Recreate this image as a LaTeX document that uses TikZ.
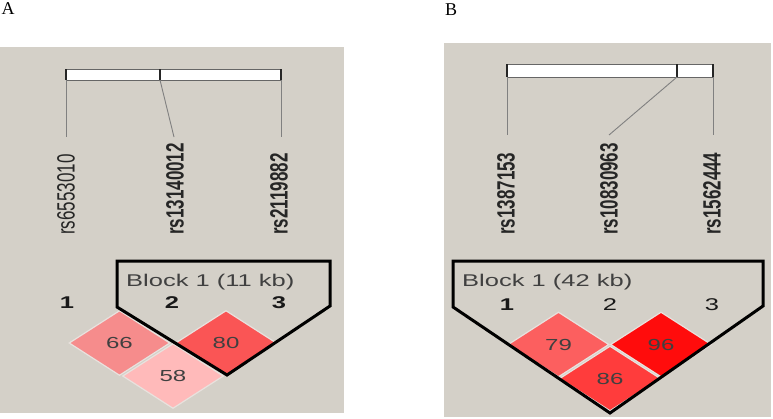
\documentclass[tikz,border=0pt]{standalone}
\usepackage{fontspec}
\setmainfont{Liberation Serif}
\newfontfamily\hvwide[FakeStretch=1.5]{Liberation Sans}
\newfontfamily\hvtall[FakeStretch=0.68]{Liberation Sans}
\usetikzlibrary{shapes.geometric}
\definecolor{hvgrey}{RGB}{212,208,200}
\definecolor{hvgap}{RGB}{232,226,222}
\definecolor{ldsixsix}{RGB}{246,140,140}
\definecolor{ldeightzero}{RGB}{250,85,85}
\definecolor{ldfiveeight}{RGB}{255,186,186}
\definecolor{ldsevennine}{RGB}{252,95,95}
\definecolor{ldninesix}{RGB}{255,12,12}
\definecolor{ldeightsix}{RGB}{255,60,60}
\tikzset{panel/.style={fill=hvgrey, draw=none}, panelname/.style={inner sep=0, font=\fontsize{18}{18}\selectfont}, snpbar/.style={draw=black!60, fill=white, line width=1pt}, snptick/.style={draw=black!85, line width=2pt}, snpline/.style={draw=black!50, line width=0.9pt}, snpname/.style={rotate=90, anchor=west, inner sep=0, text=black!85, font=\hvtall\fontsize{25}{25}\selectfont}, snpnum/.style={inner sep=0, text=black!90, font=\hvwide\bfseries\fontsize{17}{17}\selectfont}, snpnumlight/.style={snpnum, font=\hvwide\fontsize{17}{17}\selectfont}, blockname/.style={anchor=base west, inner sep=0, text=black!75, font=\hvwide\fontsize{17}{17}\selectfont}, ldcell/.style={diamond, minimum width=101pt, minimum height=65pt, inner sep=0, draw=hvgap, line width=1.2pt, text=black!75, font=\hvwide\fontsize{16}{16}\selectfont}, blockline/.style={draw=black, line width=3pt, line join=miter}}

\begin{document}
\begin{tikzpicture}[x=1pt, y=-1pt]
    \useasboundingbox[fill=white] (0,0) rectangle (773,418);
    \fill[panel] (0,47) rectangle (344,413);
    \fill[panel] (444,43) rectangle (771,417);
    \node[panelname] (lblA) at (8,9) {A};
    \node[panelname] (lblB) at (451,10) {B};

    \draw[snpbar] (66,69) rectangle (281,80);
    \coordinate (a-t1) at (66,69);
    \coordinate (a-t2) at (160,69);
    \coordinate (a-t3) at (281,69);
    \coordinate (a-b1) at (66,80);
    \coordinate (a-b2) at (160,80);
    \coordinate (a-b3) at (281,80);
    \coordinate (a-e1) at (66,137);
    \coordinate (a-e2) at (174,137);
    \coordinate (a-e3) at (281,137);
    \draw[snptick] (a-t1) -- (a-b1);
    \draw[snptick] (a-t2) -- (a-b2);
    \draw[snptick] (a-t3) -- (a-b3);
    \draw[snpline] (a-b1) -- (a-e1);
    \draw[snpline] (a-b2) -- (a-e2);
    \draw[snpline] (a-b3) -- (a-e3);
    \node[snpname] (a-rs1) at (66,235) {rs6553010};
    \node[snpname] (a-rs2) at (175,235) {\bfseries rs13140012};
    \node[snpname] (a-rs3) at (279,235) {\bfseries rs2119882};
    \node[snpnum] (a-n1) at (67,303) {1};
    \node[snpnum] (a-n2) at (172,303) {2};
    \node[snpnum] (a-n3) at (279,303) {3};
    \node[blockname] (a-block) at (126,286) {Block 1 (11 kb)};
    \node[ldcell, fill=ldsixsix] (a-ld12) at (119.5,343) {66};
    \node[ldcell, fill=ldeightzero] (a-ld23) at (226,343) {80};
    \node[ldcell, fill=ldfiveeight] (a-ld13) at (173,376) {58};
    \draw[blockline] (117,261) -- (330,261) -- (330,306) -- (227,375) -- (117,307) -- cycle;

    \draw[snpbar] (507,64) rectangle (713,77);
    \coordinate (b-t1) at (507,64);
    \coordinate (b-t2) at (677,64);
    \coordinate (b-t3) at (713,64);
    \coordinate (b-b1) at (507,77);
    \coordinate (b-b2) at (677,77);
    \coordinate (b-b3) at (713,77);
    \coordinate (b-e1) at (507,135);
    \coordinate (b-e2) at (609,135);
    \coordinate (b-e3) at (713,135);
    \draw[snptick] (b-t1) -- (b-b1);
    \draw[snptick] (b-t2) -- (b-b2);
    \draw[snptick] (b-t3) -- (b-b3);
    \draw[snpline] (b-b1) -- (b-e1);
    \draw[snpline] (b-b2) -- (b-e2);
    \draw[snpline] (b-b3) -- (b-e3);
    \node[snpname] (b-rs1) at (506,235) {\bfseries rs1387153};
    \node[snpname] (b-rs2) at (609,235) {\bfseries rs10830963};
    \node[snpname] (b-rs3) at (712,235) {\bfseries rs1562444};
    \node[snpnum] (b-n1) at (507,305) {1};
    \node[snpnumlight] (b-n2) at (610,305) {2};
    \node[snpnumlight] (b-n3) at (712,305) {3};
    \node[blockname] (b-block) at (462,286) {Block 1 (42 kb)};
    \node[ldcell, fill=ldsevennine] (b-ld12) at (558.5,344.5) {79};
    \node[ldcell, fill=ldninesix] (b-ld23) at (661,344.5) {96};
    \node[ldcell, fill=ldeightsix] (b-ld13) at (610,378.5) {86};
    \draw[blockline] (453,261) -- (763,261) -- (763,306) -- (610,413) -- (453,307) -- cycle;
\end{tikzpicture}
\end{document}
